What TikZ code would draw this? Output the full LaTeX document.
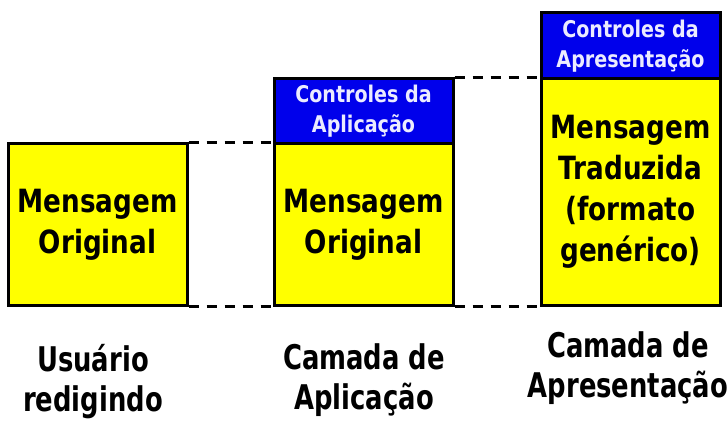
\documentclass[tikz,border=0pt]{standalone}
\usepackage{fontspec}
\newfontfamily\msgfont[FakeStretch=0.82]{DejaVu Sans}
\newfontfamily\ctrlfont[FakeStretch=0.83]{DejaVu Sans}
\newfontfamily\capfont[FakeStretch=0.76]{DejaVu Sans}
\definecolor{boxyellow}{RGB}{255,255,0}
\definecolor{ctrlblue}{RGB}{0,0,235}
\definecolor{ctrltext}{RGB}{235,235,255}
\tikzset{
  msgbox/.style={draw=black, line width=3pt, fill=boxyellow, minimum width=179pt,
    inner sep=0pt, align=center, font=\msgfont\bfseries\fontsize{32}{41}\selectfont},
  ctrlbox/.style={draw=black, line width=3pt, fill=ctrlblue, text=ctrltext, minimum width=179pt,
    inner sep=0pt, align=center, font=\ctrlfont\bfseries\fontsize{23}{30}\selectfont},
  layer/.style={align=center, font=\capfont\bfseries\fontsize{34}{40}\selectfont},
  guide/.style={dash pattern=on 10pt off 8pt, line width=3.5pt}
}

\begin{document}
\begin{tikzpicture}[x=1pt, y=-1pt]
  \fill[white] (0,0) rectangle (728,425);
  \useasboundingbox (0,0) rectangle (728,425);
  % message stacks, one per layer
  \node[msgbox, minimum height=161pt] (usr) at (97.5,224.5) {Mensagem\\Original};
  \node[ctrlbox, minimum height=65pt] (aplctrl) at (363.5,111.5) {Controles da\\Aplicação};
  \node[msgbox, minimum height=161pt] (aplmsg) at (363.5,224.5) {Mensagem\\Original};
  \node[ctrlbox, minimum height=66pt] (aprctrl) at (630.5,46) {Controles da\\Apresentação};
  \node[msgbox, minimum height=226pt] (aprmsg) at (630.5,192) {Mensagem\\Traduzida\\(formato\\genérico)};
  \draw[guide] (usr.north east) -- (aplmsg.north west);
  \draw[guide] (usr.south east) -- (aplmsg.south west);
  \draw[guide] (aplctrl.north east) -- (aprmsg.north west);
  \draw[guide] (aplmsg.south east) -- (aprmsg.south west);
  \node[layer] (usrlbl) at (93,382) {Usuário\\redigindo};
  \node[layer] (apllbl) at (364,380) {Camada de\\Aplicação};
  \node[layer] (aprlbl) at (628,368) {Camada de\\Apresentação};
\end{tikzpicture}
\end{document}
